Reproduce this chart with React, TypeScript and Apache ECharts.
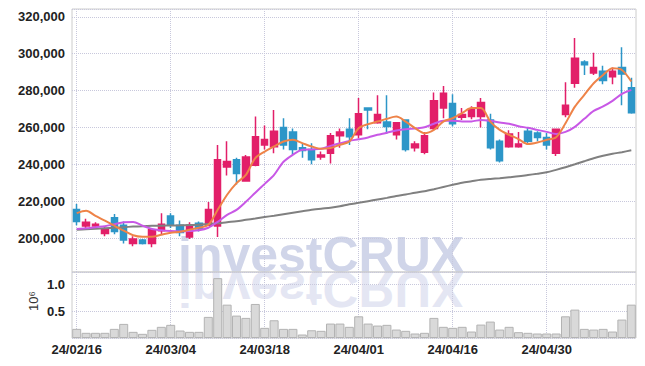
import React, { useEffect, useRef } from "react";
import * as echarts from "echarts";

const dates = [
  "24/02/16","24/02/19","24/02/20","24/02/21","24/02/22","24/02/23","24/02/26","24/02/27","24/02/28","24/02/29",
  "24/03/04","24/03/05","24/03/06","24/03/07","24/03/08","24/03/11","24/03/12","24/03/13","24/03/14","24/03/15",
  "24/03/18","24/03/19","24/03/20","24/03/21","24/03/22","24/03/25","24/03/26","24/03/27","24/03/28","24/03/29",
  "24/04/01","24/04/02","24/04/03","24/04/04","24/04/05","24/04/08","24/04/09","24/04/11","24/04/12","24/04/15",
  "24/04/16","24/04/17","24/04/18","24/04/19","24/04/22","24/04/23","24/04/24","24/04/25","24/04/26","24/04/29",
  "24/04/30","24/05/02","24/05/03","24/05/07","24/05/08","24/05/09","24/05/10","24/05/13","24/05/14","24/05/16",
];

const opens = [
  215500, 206500, 206500, 202500, 211000, 207000, 197000, 199000, 197000, 204000,
  212000, 207000, 200500, 208000, 207000, 206500, 238500, 242500, 231000, 239500,
  250500, 249500, 260000, 257500, 249000, 248000, 244000, 246000, 255500, 259000,
  256000, 270500, 262500, 263000, 256000, 264000, 249000, 246500, 259500, 270500,
  273000, 265500, 266000, 266000, 264000, 252500, 249500, 249500, 258000, 257000,
  254500, 246000, 267000, 284000, 295500, 289500, 290500, 287500, 292500, 281500,
];
const closes = [
  209000, 208500, 207500, 204500, 203500, 199000, 199500, 197000, 204500, 207500,
  207000, 203000, 207000, 205000, 215500, 242500, 241500, 235000, 244000, 255000,
  253500, 258000, 250500, 248000, 247500, 242500, 245000, 255500, 257500, 255000,
  267500, 269500, 267000, 260500, 262500, 248000, 251000, 255500, 274500, 278500,
  262000, 267000, 270000, 273500, 249000, 242000, 256500, 251000, 252500, 254500,
  250500, 259000, 272000, 297500, 294000, 292500, 285500, 290500, 289000, 268000,
];
const lows = [
  207000, 205000, 205000, 201000, 202000, 197000, 195500, 196500, 195000, 202000,
  205500, 201000, 199500, 203500, 207000, 200500, 234000, 229000, 230500, 239000,
  248000, 246000, 248000, 245000, 243500, 240000, 242500, 240500, 249000, 250500,
  254000, 259000, 262000, 256500, 253500, 247000, 247000, 245500, 258500, 265000,
  260500, 264000, 264500, 260000, 248000, 241000, 249000, 249000, 251500, 252500,
  248000, 244500, 265500, 281500, 288500, 288500, 283500, 283500, 272000, 267500,
];
const highs = [
  218500, 210500, 208500, 206500, 213000, 209000, 201000, 199500, 205000, 213500,
  213500, 209500, 208500, 209000, 219500, 250500, 252500, 243500, 245000, 266000,
  261000, 269500, 265000, 259500, 251500, 251500, 247000, 257000, 259500, 265000,
  276000, 270500, 277500, 277500, 263000, 264500, 252500, 257500, 279000, 282500,
  278000, 270500, 271500, 276000, 267500, 253500, 258500, 257500, 260000, 258000,
  257000, 259500, 284500, 308500, 296500, 300500, 293500, 292500, 303500, 287000,
];

const ma5 = [
  213500, 214800, 212000, 209400, 206700, 204000, 201500, 200700, 200700, 201800,
  202900, 203400, 204500, 205600, 207200, 215300, 223500, 229800, 234300, 243400,
  246900, 249700, 252400, 253300, 251500, 249700, 248400, 248800, 250600, 252400,
  259600, 261800, 263200, 264700, 265900, 263200, 259600, 256900, 258700, 263200,
  265000, 267800, 270500, 270500, 263200, 258700, 256000, 253700, 251000, 251800,
  253300, 254700, 262300, 271300, 277700, 284000, 288500, 292100, 291200, 284900,
];
const ma20 = [
  204900, 205300, 205900, 206400, 207500, 208600, 208700, 206700, 204900, 204200,
  203800, 203600, 203800, 204200, 205600, 208800, 212600, 215300, 219700, 224600,
  229400, 234300, 241400, 245200, 247900, 248100, 248400, 250000, 251400, 252700,
  253600, 254600, 256000, 257100, 258400, 259000, 259500, 260100, 262000, 263600,
  263600, 263300, 263300, 264100, 263600, 262700, 262000, 260700, 259800, 258700,
  257600, 256500, 257600, 260300, 264700, 269000, 271400, 274400, 278200, 280400,
];
const maLong = [
  204500, 204800, 205000, 205300, 205600, 205900, 206200, 206400, 206600, 206700,
  206800, 206900, 207100, 207200, 207600, 208000, 208600, 209100, 209900, 210600,
  211400, 212100, 212900, 213700, 214500, 215300, 215900, 216400, 217200, 218300,
  219100, 220000, 220900, 221800, 222800, 223600, 224600, 225400, 226500, 227700,
  228900, 230000, 230800, 231600, 232100, 232500, 233000, 233500, 234200, 234900,
  235700, 237000, 238400, 240000, 241700, 243300, 244600, 245700, 246600, 247600,
];

const volumes = [
  171000, 97000, 97000, 97000, 171000, 264000, 115000, 78000, 153000, 209000,
  246000, 140000, 115000, 115000, 395000, 1120000, 624000, 419000, 376000, 637000,
  190000, 332000, 171000, 171000, 65000, 145000, 134000, 270000, 270000, 209000,
  406000, 270000, 233000, 246000, 158000, 134000, 84000, 97000, 376000, 209000,
  190000, 209000, 121000, 251000, 307000, 158000, 209000, 109000, 97000, 84000,
  84000, 84000, 406000, 531000, 171000, 158000, 171000, 121000, 345000, 624000,
];

const UP = "#e21f69";
const DOWN = "#2d96c8";
const GRIDLINE = "#c8c8dc";
const FONT = '"Liberation Sans", Arial, sans-serif';

export default function App() {
  const ref = useRef<HTMLDivElement>(null);

  useEffect(() => {
    if (!ref.current) return;
    const chart = echarts.init(ref.current, null, { renderer: "svg" });

    const labelStyle = {
      color: "#222",
      fontFamily: FONT,
      fontWeight: "bold" as const,
      fontSize: 13,
    };
    const dotted = { type: "dotted" as const, color: GRIDLINE, width: 1 };

    const option: any = {
      animation: false,
      backgroundColor: "#ffffff",
      graphic: [
        {
          type: "text",
          x: 178,
          y: 254.7,
          z: -10,
          silent: true,
          style: {
            text: "investCRUX",
            font: `bold 50px ${FONT}`,
            fill: "#d0d5e9",
            verticalAlign: "middle",
            textVerticalAlign: "middle",
          },
        },
        {
          type: "text",
          x: 178,
          y: 272,
          scaleY: -1,
          z: -10,
          silent: true,
          style: {
            text: "investCRUX",
            x: 0,
            y: -17.3,
            font: `bold 50px ${FONT}`,
            fill: "#e4e6f3",
            verticalAlign: "middle",
            textVerticalAlign: "middle",
          },
        },
        {
          type: "text",
          x: 33,
          y: 301,
          rotation: Math.PI / 2,
          silent: true,
          style: {
            text: "10⁶",
            font: `13px ${FONT}`,
            fill: "#333",
            align: "center",
            textAlign: "center",
            verticalAlign: "middle",
            textVerticalAlign: "middle",
          },
        },
      ],
      grid: [
        { left: 72, right: 9, top: 9, height: 263, show: true, borderColor: "#cccccc", borderWidth: 1 },
        { left: 72, right: 9, top: 272, height: 66, show: true, borderColor: "#cccccc", borderWidth: 1 },
      ],
      xAxis: [
        {
          type: "category",
          gridIndex: 0,
          data: dates,
          boundaryGap: true,
          axisLine: { show: false },
          axisTick: { show: false, alignWithLabel: true, interval: 9 },
          axisLabel: { show: false, interval: 9 },
          splitLine: { show: true, interval: 9, alignWithLabel: true, lineStyle: dotted },
        },
        {
          type: "category",
          gridIndex: 1,
          data: dates,
          boundaryGap: true,
          axisLine: { show: false },
          axisTick: { show: false, alignWithLabel: true, interval: 9 },
          axisLabel: { ...labelStyle, interval: 9, margin: 5 },
          splitLine: { show: true, interval: 9, alignWithLabel: true, lineStyle: dotted },
        },
      ],
      yAxis: [
        {
          type: "value",
          gridIndex: 0,
          min: 181570,
          max: 324280,
          splitNumber: 7,
          axisLine: { show: false },
          axisTick: { show: false },
          axisLabel: {
            ...labelStyle,
            margin: 7,
            showMinLabel: false,
            showMaxLabel: false,
            formatter: (v: number) => Math.round(v).toLocaleString("en-US"),
          },
          splitLine: { show: true, lineStyle: dotted },
        },
        {
          type: "value",
          gridIndex: 1,
          min: 0,
          max: 1235000,
          interval: 500000,
          axisLine: { show: false },
          axisTick: { show: false },
          axisLabel: {
            ...labelStyle,
            margin: 7,
            showMinLabel: false,
            showMaxLabel: false,
            formatter: (v: number) => (v / 1e6).toFixed(1),
          },
          splitLine: { show: true, lineStyle: dotted },
        },
      ],
      series: [
        {
          type: "candlestick",
          xAxisIndex: 0,
          yAxisIndex: 0,
          barWidth: "72%",
          data: opens.map((o, i) => [o, closes[i], lows[i], highs[i]]),
          itemStyle: {
            color: UP,
            color0: DOWN,
            borderColor: UP,
            borderColor0: DOWN,
            borderWidth: 1.5,
          },
        },
        {
          type: "line",
          xAxisIndex: 0,
          yAxisIndex: 0,
          data: maLong,
          symbol: "none",
          smooth: 0.3,
          lineStyle: { color: "#808080", width: 2 },
        },
        {
          type: "line",
          xAxisIndex: 0,
          yAxisIndex: 0,
          data: ma20,
          symbol: "none",
          smooth: 0.3,
          lineStyle: { color: "#c858e6", width: 2 },
        },
        {
          type: "line",
          xAxisIndex: 0,
          yAxisIndex: 0,
          data: ma5,
          symbol: "none",
          smooth: 0.3,
          lineStyle: { color: "#ee8348", width: 2 },
        },
        {
          type: "bar",
          xAxisIndex: 1,
          yAxisIndex: 1,
          data: volumes,
          barCategoryGap: "4%",
          itemStyle: { color: "#d9d9d9", borderColor: "#b3b3b3", borderWidth: 1 },
        },
      ],
    };

    chart.setOption(option);
    return () => chart.dispose();
  }, []);

  return (
    <div
      ref={ref}
      style={{ position: "absolute", left: 0, top: 0, width: 645, height: 366 }}
    />
  );
}
